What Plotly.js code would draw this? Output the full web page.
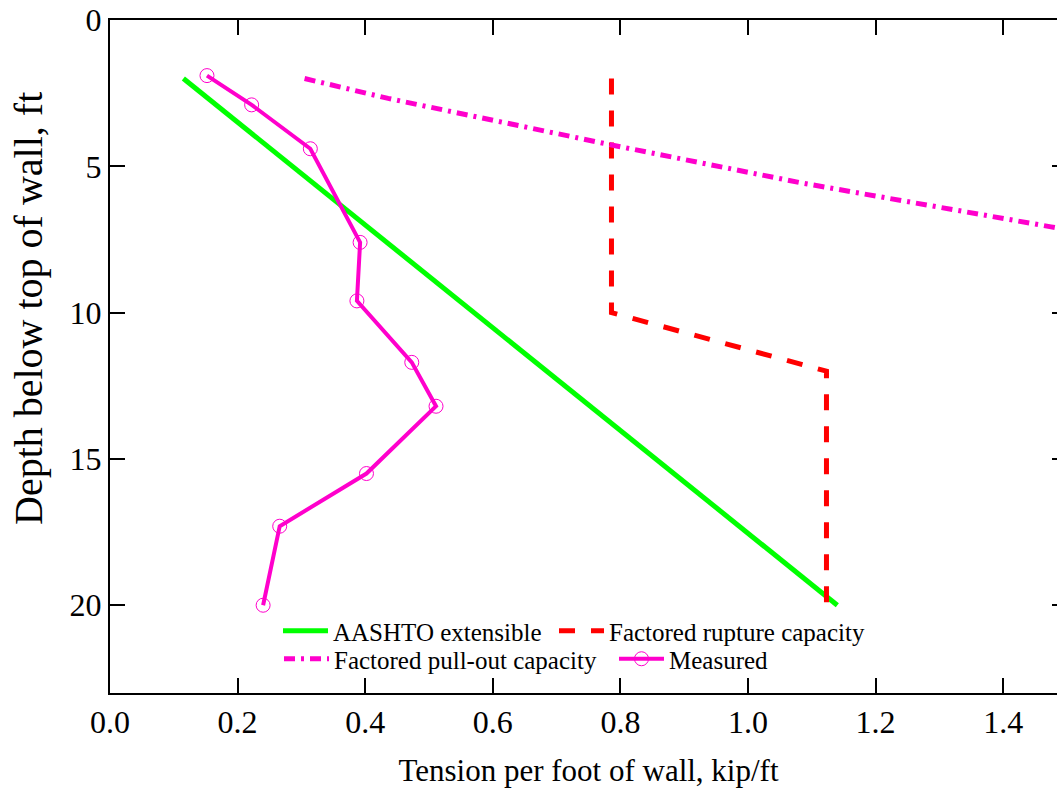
<!DOCTYPE html>
<html>
<head>
<meta charset="utf-8">
<script src="https://cdn.plot.ly/plotly-3.0.1.min.js"></script>
<style>
html,body{margin:0;padding:0;overflow:hidden;background:#fff;}
#chart{width:1075px;height:788px;}
</style>
</head>
<body>
<div id="chart"></div>
<script>
// ---- data ----
const aashtoTension = [0.115, 1.14];
const aashtoDepth   = [2.0, 20.0];

const ruptureTension = [0.786, 0.786, 1.123, 1.123];
const ruptureDepth   = [2.0, 10.0, 12.0, 20.0];

const pulloutTension = [0.305, 0.436, 0.786, 1.084, 1.475, 1.5];
const pulloutDepth   = [2.0, 2.68, 4.27, 5.57, 7.07, 7.17];

const measuredTension = [0.152, 0.222, 0.314, 0.392, 0.387, 0.473, 0.511, 0.402, 0.266, 0.240];
const measuredDepth   = [1.9, 2.9, 4.4, 7.6, 9.6, 11.7, 13.2, 15.5, 17.3, 20.0];

const seriesNames = ['AASHTO extensible', 'Factored rupture capacity', 'Factored pull-out capacity', 'Measured'];
const xTickVals = [0, 0.2, 0.4, 0.6, 0.8, 1.0, 1.2, 1.4];
const yTickVals = [0, 5, 10, 15, 20];
const xTitle = 'Tension per foot of wall, kip/ft';
const yTitle = 'Depth below top of wall, ft';

const W = 1075, H = 788;
const M = {l: 110, r: 8, t: 20, b: 95};
const PW = W - M.l - M.r, PH = H - M.t - M.b;
const FONT = "'Liberation Serif', 'Times New Roman', Times, serif";
const MAG = '#ff00cc';

const traces = [
  {x: aashtoTension, y: aashtoDepth, name: seriesNames[0], mode: 'lines',
   line: {color: '#00ff00', width: 5}, legend: 'legend'},
  {x: ruptureTension, y: ruptureDepth, name: seriesNames[1], mode: 'lines',
   line: {color: '#ff0000', width: 5, dash: '16px,16px'}, legend: 'legend2'},
  {x: pulloutTension, y: pulloutDepth, name: seriesNames[2], mode: 'lines',
   line: {color: MAG, width: 5, dash: '11px,6px,3px,6px'}, legend: 'legend3'},
  {x: measuredTension, y: measuredDepth, name: seriesNames[3], mode: 'lines+markers',
   line: {color: MAG, width: 4},
   marker: {symbol: 'circle-open', size: 14, color: MAG, line: {color: MAG, width: 1}},
   legend: 'legend4'}
];

function leg(px, py) {
  return {x: (px - M.l) / PW, y: 1 - (py - M.t) / PH, xref: 'paper', yref: 'paper',
          xanchor: 'left', yanchor: 'middle', bgcolor: 'rgba(0,0,0,0)', borderwidth: 0,
          font: {family: FONT, size: 25, color: '#000'}, itemwidth: 45};
}

const layout = {
  width: W, height: H,
  paper_bgcolor: '#fff', plot_bgcolor: '#fff',
  margin: M,
  font: {family: FONT, size: 32, color: '#000'},
  showlegend: true,
  legend: leg(278, 631),
  legend2: leg(554, 631),
  legend3: leg(279, 659),
  legend4: leg(614, 659),
  xaxis: {
    range: [0, 1.5], tickvals: xTickVals, tickformat: '.1f',
    ticks: 'inside', ticklen: 15, tickwidth: 2, tickcolor: '#000',
    showline: true, linecolor: '#000', linewidth: 2, mirror: 'ticks',
    showgrid: false, zeroline: false, automargin: false,
    tickfont: {family: FONT, size: 32, color: '#000'},
    title: {text: xTitle, font: {family: FONT, size: 31, color: '#000'}, standoff: 23}
  },
  yaxis: {
    range: [23, 0], tickvals: yTickVals,
    ticks: 'inside', ticklen: 15, tickwidth: 2, tickcolor: '#000',
    showline: true, linecolor: '#000', linewidth: 2, mirror: 'ticks',
    showgrid: false, zeroline: false, automargin: false,
    tickfont: {family: FONT, size: 32, color: '#000'}
  },
  annotations: [{
    text: yTitle, textangle: -90, showarrow: false,
    xref: 'paper', yref: 'paper',
    x: (28 - M.l) / PW, y: 1 - (309 - M.t) / PH,
    xanchor: 'center', yanchor: 'middle',
    font: {family: FONT, size: 40, color: '#000'}
  }]
};

Plotly.newPlot('chart', traces, layout, {displayModeBar: false, staticPlot: true});
</script>
</body>
</html>
